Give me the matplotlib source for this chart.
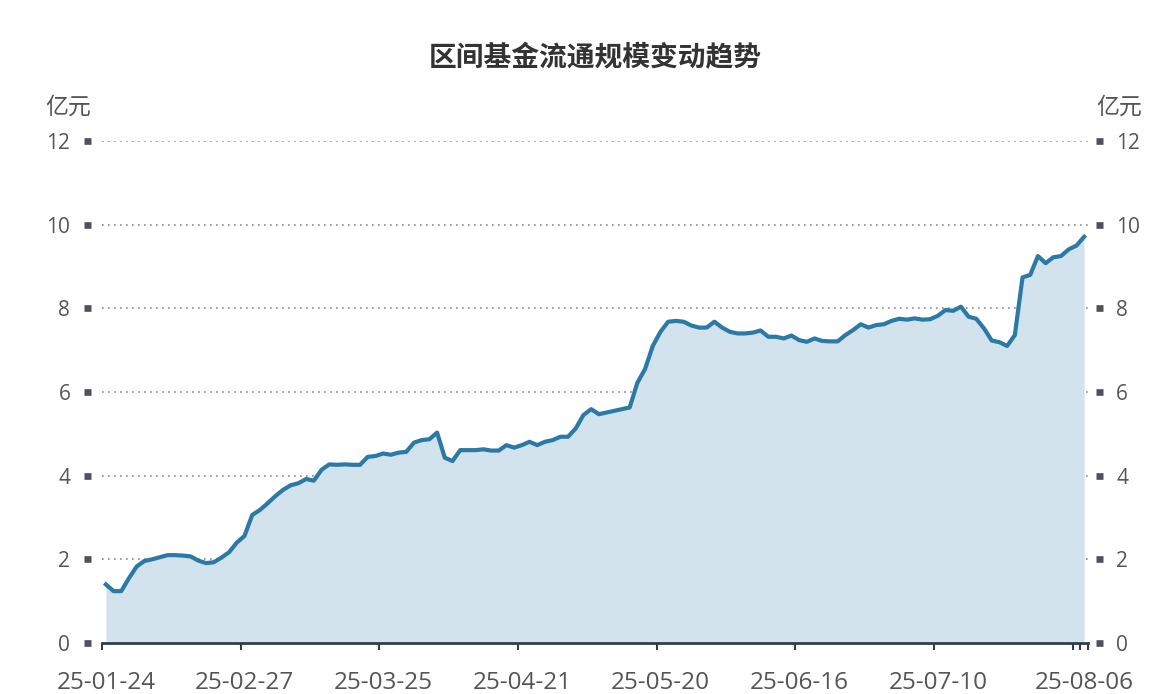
import matplotlib
matplotlib.use("Agg")
import matplotlib.pyplot as plt
import numpy as np

plt.rcParams['font.family'] = ['Open Sans', 'Noto Sans CJK SC', 'DejaVu Sans']

title = "区间基金流通规模变动趋势"
unit = "亿元"

# circulating scale (亿元), one value per trading day 25-01-24 .. 25-08-06
values = [
    1.40, 1.24, 1.24, 1.55, 1.83, 1.96, 2.00, 2.05, 2.10, 2.10,
    2.09, 2.07, 1.97, 1.91, 1.93, 2.04, 2.17, 2.40, 2.56, 3.06,
    3.18, 3.34, 3.51, 3.66, 3.77, 3.82, 3.92, 3.88, 4.14, 4.27,
    4.26, 4.27, 4.26, 4.26, 4.45, 4.47, 4.53, 4.50, 4.55, 4.57,
    4.79, 4.85, 4.87, 5.03, 4.43, 4.35, 4.61, 4.61, 4.61, 4.63,
    4.60, 4.60, 4.73, 4.67, 4.73, 4.81, 4.73, 4.81, 4.85, 4.93,
    4.93, 5.13, 5.45, 5.59, 5.47, 5.51, 5.55, 5.59, 5.63, 6.22,
    6.55, 7.10, 7.44, 7.68, 7.70, 7.68, 7.59, 7.54, 7.54, 7.68,
    7.54, 7.44, 7.40, 7.40, 7.42, 7.47, 7.32, 7.32, 7.28, 7.35,
    7.24, 7.20, 7.28, 7.22, 7.21, 7.21, 7.36, 7.48, 7.62, 7.54,
    7.60, 7.62, 7.70, 7.75, 7.73, 7.76, 7.73, 7.74, 7.82, 7.96,
    7.94, 8.04, 7.80, 7.75, 7.52, 7.23, 7.19, 7.10, 7.36, 8.74,
    8.80, 9.25, 9.08, 9.22, 9.25, 9.41, 9.50, 9.71,
]

tick_label_idx = [0, 18, 36, 54, 72, 90, 108, 127]
tick_labels = ["25-01-24", "25-02-27", "25-03-25", "25-04-21",
               "25-05-20", "25-06-16", "25-07-10", "25-08-06"]
tick_mark_idx = [0, 18, 36, 54, 72, 90, 108, 126, 127, 128]
y_ticks = [0, 2, 4, 6, 8, 10, 12]

W, H = 1158, 694
fig = plt.figure(figsize=(W / 100, H / 100), dpi=100)
ax = fig.add_axes([102 / W, 51 / H, (1088 - 102) / W, (643 - 141) / H])

n = len(values)
x = np.arange(n) + 0.5
line_c = '#2b79a6'
ax.fill_between(x, 0, values, color='#d3e3ee', lw=0, zorder=1)
ax.plot(x, values, color=line_c, lw=3.0, solid_joinstyle='round', zorder=3)

ax.set_xlim(0, n)
ax.set_ylim(0, 12)

# grid
for yv in y_ticks[1:]:
    ax.axhline(yv, color='#8c8c8c', lw=1.2, ls=(0, (1, 2.6)), zorder=0)

# x axis
ax.set_xticks([i + 0.5 for i in tick_label_idx])
ax.set_xticklabels(tick_labels)
ax.set_xticks(tick_mark_idx, minor=True)
ax.tick_params(axis='x', which='major', length=0, pad=20, labelsize=17.5, labelcolor='#555555')
ax.tick_params(axis='x', which='minor', length=5, width=1.5, color='#333d47', direction='out')
ax.spines['bottom'].set_color('#333d47')
ax.spines['bottom'].set_linewidth(2)
ax.spines['top'].set_visible(False)

# y axes (both sides)
ax.set_yticks(y_ticks)
ax.set_yticklabels([str(v) for v in y_ticks])
ax.spines['left'].set_position(('outward', 8))
ax.spines['right'].set_position(('outward', 5.4))
ax.spines['left'].set_visible(False)
ax.spines['right'].set_visible(False)
ax.tick_params(axis='y', which='major', left=True, right=True, labelleft=True, labelright=True,
               length=4.8, width=4.8, color='#50505a', direction='out',
               labelsize=15, labelcolor='#555555', pad=10)

fig.text(68 / W, 1 - 107 / H, unit, ha='center', va='center', fontsize=16.5, color='#555555',
         family=['Noto Sans CJK SC', 'DejaVu Sans'])
fig.text(1119 / W, 1 - 107 / H, unit, ha='center', va='center', fontsize=16.5, color='#555555',
         family=['Noto Sans CJK SC', 'DejaVu Sans'])
fig.text(595 / W, 1 - 58 / H, title, ha='center', va='center', fontsize=20,
         fontweight='bold', color='#333333', family=['Noto Sans CJK SC', 'DejaVu Sans'])

fig.savefig("out.png", dpi=100)
